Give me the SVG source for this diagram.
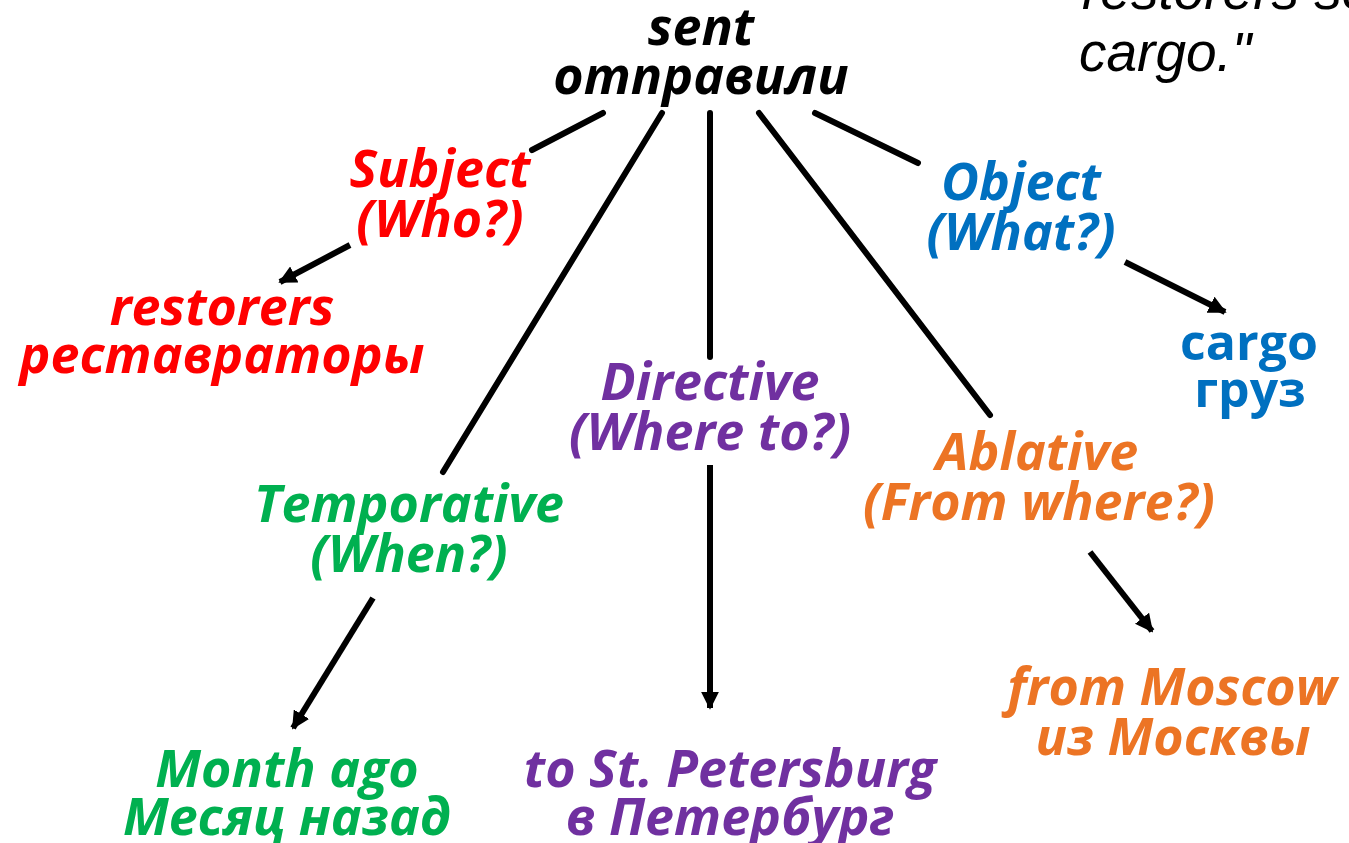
<svg xmlns="http://www.w3.org/2000/svg" width="1349" height="843" viewBox="0 0 1349 843">
<style>
.t{font-family:"Open Sans","Noto Sans",sans-serif;font-weight:bold;font-style:italic;font-size:52px;text-anchor:middle}
.u{font-family:"Open Sans","Noto Sans",sans-serif;font-weight:bold;font-size:50px;text-anchor:middle}
.q{font-family:"Liberation Sans",Arial,sans-serif;font-style:italic;font-size:55px;fill:#000}
.red{fill:#ff0000}.blue{fill:#0070c0}.pur{fill:#7030a0}.grn{fill:#00b050}.org{fill:#ec7424}.blk{fill:#000}
.ln{stroke:#000;stroke-width:6;fill:none;stroke-linecap:round}
.ar{stroke:#000;stroke-width:6;fill:none;marker-end:url(#ah)}
</style>
<defs>
<marker id="ah" viewBox="0 0 10 10" refX="9" refY="5" markerWidth="3" markerHeight="3" orient="auto" markerUnits="strokeWidth">
<path d="M0,0 L10,5 L0,10 z" fill="#000"/>
</marker>
</defs>
<rect width="1349" height="843" fill="#fff"/>
<g id="quote">
<text class="q" x="1082" y="9">restorers se</text>
<text class="q" x="1079" y="71">cargo."</text>
</g>
<g id="connectors">
<line class="ln" x1="603" y1="113" x2="532" y2="150"/>
<line class="ar" x1="350" y1="245" x2="280" y2="282"/>
<line class="ln" x1="815" y1="113" x2="918" y2="163"/>
<line class="ar" x1="1125" y1="262" x2="1225" y2="312"/>
<line class="ln" x1="662" y1="113" x2="443" y2="472"/>
<line class="ar" x1="373" y1="598" x2="293" y2="728"/>
<line class="ln" x1="710" y1="113" x2="710" y2="357"/>
<line class="ar" x1="710" y1="465" x2="710" y2="708"/>
<line class="ln" x1="759" y1="113" x2="990" y2="415"/>
<line class="ar" x1="1090" y1="552" x2="1152" y2="631"/>
</g>
<g id="verb">
<text class="t blk" x="701" y="45">sent</text>
<text class="t blk" x="701" y="94">отправили</text>
</g>
<g id="subject">
<text class="t red" x="440" y="187">Subject</text>
<text class="t red" x="440" y="237">(Who?)</text>
</g>
<g id="restorers">
<text class="t red" x="222" y="325">restorers</text>
<text class="t red" x="222" y="373">реставраторы</text>
</g>
<g id="object">
<text class="t blue" x="1021" y="200">Object</text>
<text class="t blue" x="1021" y="250">(What?)</text>
</g>
<g id="cargo">
<text class="u blue" x="1249" y="360">cargo</text>
<text class="u blue" x="1250" y="407">груз</text>
</g>
<g id="directive">
<text class="t pur" x="710" y="400">Directive</text>
<text class="t pur" x="710" y="450">(Where to?)</text>
</g>
<g id="temporative">
<text class="t grn" x="409" y="522">Temporative</text>
<text class="t grn" x="409" y="572">(When?)</text>
</g>
<g id="ablative">
<text class="t org" x="1037" y="470">Ablative</text>
<text class="t org" x="1039" y="520">(From where?)</text>
</g>
<g id="month">
<text class="t grn" x="287" y="787">Month ago</text>
<text class="t grn" x="287" y="835">Месяц назад</text>
</g>
<g id="petersburg">
<text class="t pur" x="730" y="787">to St. Petersburg</text>
<text class="t pur" x="730" y="835">в Петербург</text>
</g>
<g id="moscow">
<text class="t org" x="1172" y="705">from Moscow</text>
<text class="t org" x="1173" y="755">из Москвы</text>
</g>
</svg>
